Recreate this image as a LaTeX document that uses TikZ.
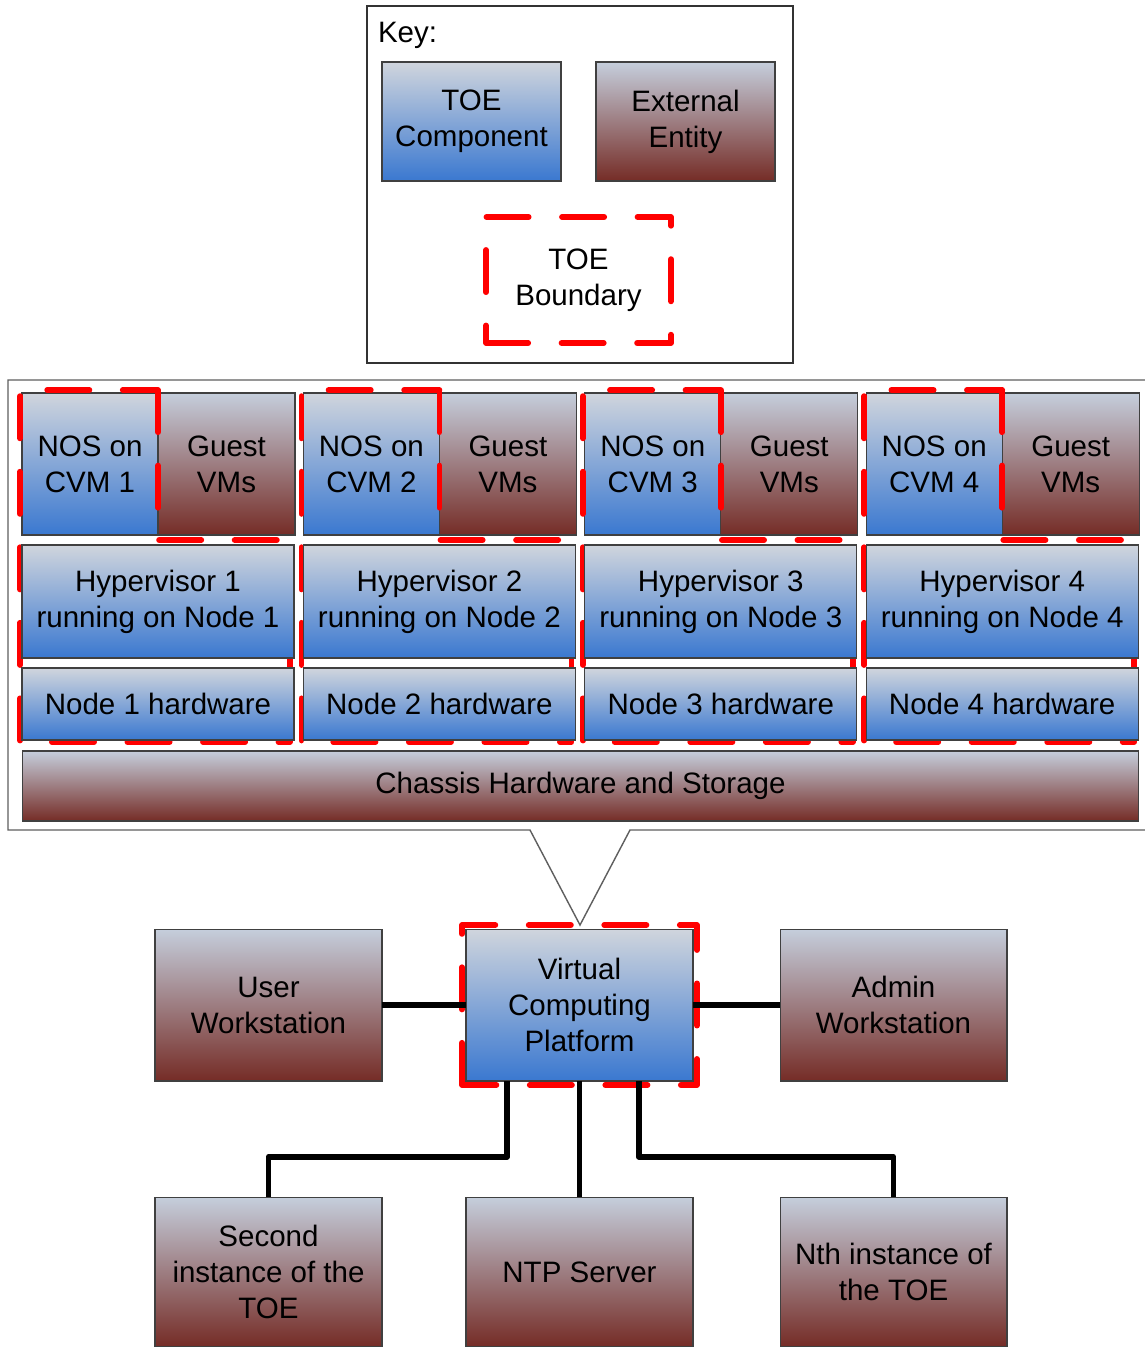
\documentclass[tikz,border=0pt]{standalone}
\usepackage{fontspec}
\setmainfont{Liberation Sans}
\usetikzlibrary{positioning}
\definecolor{toetop}{RGB}{208, 213, 221}
\definecolor{toebot}{RGB}{58, 120, 208}
\definecolor{exttop}{RGB}{197, 206, 220}
\definecolor{extbot}{RGB}{117, 44, 38}
\definecolor{bndred}{RGB}{255, 0, 0}
\definecolor{framegray}{RGB}{95, 95, 95}
\tikzset{
  lbl/.style={font=\fontsize{16.8}{20.5}\selectfont, align=center, inner sep=0pt, outer sep=0pt},
  toebox/.style={lbl, draw=black!75, line width=0.6pt, top color=toetop, bottom color=toebot},
  extbox/.style={lbl, draw=black!75, line width=0.6pt, top color=exttop, bottom color=extbot},
  boundary/.style={draw=bndred, line width=3.3pt, line cap=round, line join=round, dash pattern=on 24pt off 19pt},
  link/.style={draw=black, line width=3.3pt, line join=round}
}
\begin{document}
\begin{tikzpicture}[x=0.02cm, y=-0.02cm]
  \useasboundingbox (0,0) rectangle (1144,1347);
  \fill[white] (0,0) rectangle (1144,1347);

  % Key
  \node[draw=black!80, line width=0.8pt, minimum width=8.52cm, minimum height=7.14cm, inner sep=0pt] (key) at (580,184.5) {};
  \node[lbl, anchor=west] (keytitle) at (378,35) {Key:};
  \node[toebox, minimum width=3.58cm, minimum height=2.38cm] (keytoe) at (471.5,121.5) {TOE\\Component};
  \node[extbox, minimum width=3.58cm, minimum height=2.38cm] (keyext) at (685.5,121.5) {External\\Entity};
  \node[lbl, boundary, minimum width=3.7cm, minimum height=2.52cm] (keybnd) at (578.5,280) {TOE\\Boundary};

  % Cluster frame with callout
  \draw[framegray, line width=0.8pt] (630,830) -- (580,925) -- (530,830) -- (8,830) -- (8,380) -- (1150,380) -- (1150,830) -- cycle;

  % CVM and guest VMs
  \foreach \i/\x in {1/22, 2/303.4, 3/584.8, 4/866.2} {
    \node[toebox, minimum width=2.72cm, minimum height=2.84cm] (nos\i) at (\x+68,464) {NOS on\\CVM \i};
    \node[extbox, minimum width=2.74cm, minimum height=2.84cm] (guest\i) at (\x+204.5,464) {Guest\\VMs};
  }

  % TOE boundaries per node
  \foreach \x in {22, 303.4, 584.8, 866.2}
    \draw[boundary] (\x+136,390) -- (\x+136,540) -- (\x+268,540) -- (\x+268,742) -- (\x-2,742) -- (\x-2,390) -- cycle;

  % Hypervisors and node hardware
  \foreach \i/\x in {1/22, 2/303.4, 3/584.8, 4/866.2} {
    \node[toebox, minimum width=5.44cm, minimum height=2.26cm] (hyp\i) at (\x+136,601.5) {Hypervisor \i\\running on Node \i};
    \node[toebox, minimum width=5.44cm, minimum height=1.44cm] (hw\i) at (\x+136,704) {Node \i{} hardware};
  }

  \node[extbox, minimum width=22.34cm, minimum height=1.4cm] (chassis) at (580.5,786) {Chassis Hardware and Storage};

  % Environment
  \node[toebox, minimum width=4.54cm, minimum height=3.04cm] (vcp) at (579.5,1005) {Virtual\\Computing\\Platform};
  \draw[boundary] ([shift={(-4,4)}]vcp.south west) rectangle ([shift={(4,-4)}]vcp.north east);
  \node[extbox, minimum width=4.54cm, minimum height=3.04cm] (user) at (268.5,1005) {User\\Workstation};
  \node[extbox, minimum width=4.54cm, minimum height=3.04cm] (admin) at (893.5,1005) {Admin\\Workstation};
  \node[extbox, minimum width=4.54cm, minimum height=3.0cm] (second) at (268.5,1272) {Second\\instance of the\\TOE};
  \node[extbox, minimum width=4.54cm, minimum height=3.0cm] (ntp) at (579.5,1272) {NTP Server};
  \node[extbox, minimum width=4.54cm, minimum height=3.0cm] (nth) at (893.5,1272) {Nth instance of\\the TOE};

  % Connections
  \draw[link] (user.east) -- (vcp.west);
  \draw[link] (vcp.east) -- (admin.west);
  \draw[link] (vcp.south) -- (ntp.north);
  \draw[link] ([xshift=-1.45cm]vcp.south) -- ++(0,76) -| (second.north);
  \draw[link] ([xshift=1.19cm]vcp.south) -- ++(0,76) -| (nth.north);
\end{tikzpicture}
\end{document}
